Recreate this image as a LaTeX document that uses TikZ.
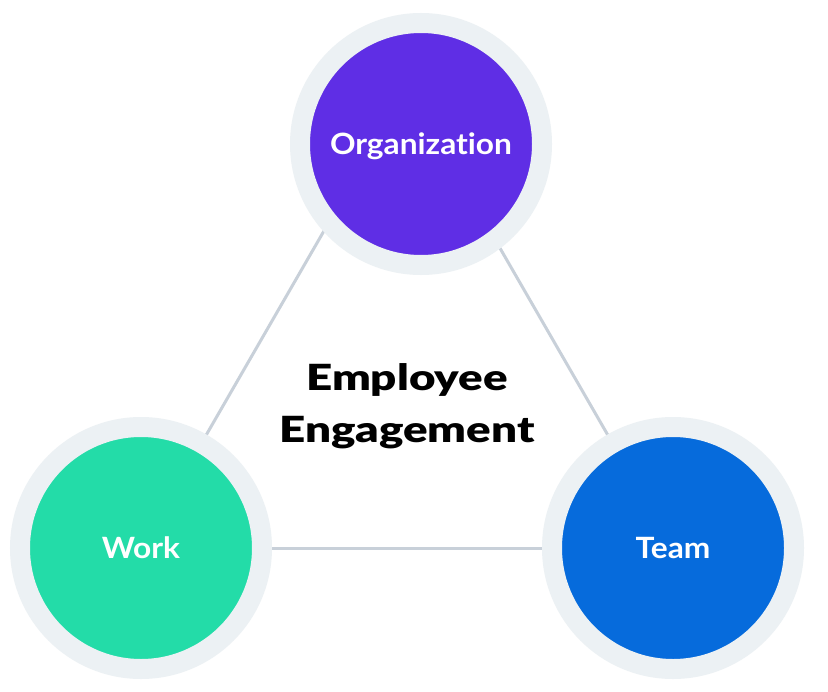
\documentclass[tikz,border=0pt]{standalone}
\usepackage{fontspec}
\setmainfont{Lato}[Ligatures=NoCommon, FakeStretch=1.08]
\newfontfamily\titlefont{Lato Black}[FakeStretch=1.27]
\usetikzlibrary{backgrounds}
\definecolor{ringgray}{HTML}{ECF1F4}
\definecolor{linkgray}{HTML}{C8D0D9}
\definecolor{orgpurple}{HTML}{5F2EE5}
\definecolor{workgreen}{HTML}{23DCA8}
\definecolor{teamblue}{HTML}{066BDC}
\tikzset{
  hub/.style={circle, draw=ringgray, line width=15pt, fill=#1, minimum size=181.5pt,
    text=white, font=\fontsize{22}{26}\selectfont\bfseries, text height=16pt, text depth=0pt},
  link/.style={draw=linkgray, line width=2.25pt},
  title/.style={align=center, font=\fontsize{27}{39}\titlefont},
}
\begin{document}
\begin{tikzpicture}[x=0.75pt, y=-0.75pt]
  \useasboundingbox (0,0) rectangle (828,692);
  \node[hub=orgpurple] (org) at (421,144) {Organization};
  \node[hub=workgreen] (work) at (141,548) {Work};
  \node[hub=teamblue] (team) at (673,548) {Team};
  \coordinate (apex) at (407,87);
  \node[title] (engage) at (407,406) {Employee\\Engagement};
  % triangle behind the circles
  \begin{scope}[on background layer]
    \fill[white] (0,0) rectangle (828,692);
    \draw[link] (work.center) -- (apex);
    \draw[link] (apex) -- (team.center);
    \draw[link] (work) -- (team);
  \end{scope}
\end{tikzpicture}
\end{document}
